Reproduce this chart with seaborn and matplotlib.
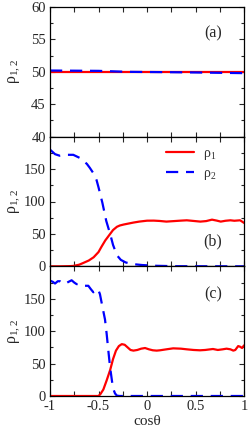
import numpy as np
import pandas as pd
import matplotlib
matplotlib.use("Agg")
import matplotlib.pyplot as plt
from matplotlib.ticker import MultipleLocator
import seaborn as sns

# ---------------- data ----------------
# panel (a)
a_x1 = [-1.0, 1.0]
a_rho1 = [50.0, 50.0]
a_x2 = [-1.0, -0.5, -0.2, 0.2, 0.5, 1.0]
a_rho2 = [50.2, 50.15, 50.0, 49.95, 49.9, 49.8]

# panel (b)
b_x1 = [-1.0, -0.9, -0.8, -0.76, -0.7, -0.66, -0.6, -0.55, -0.5, -0.47, -0.43, -0.4,
        -0.38, -0.35, -0.31, -0.28, -0.24, -0.19, -0.14, -0.08, 0.0, 0.07, 0.13,
        0.2, 0.28, 0.35, 0.41, 0.48, 0.55, 0.61, 0.67, 0.72, 0.76, 0.81, 0.86,
        0.9, 0.96, 1.0]
b_rho1 = [0.0, 0.0, 0.3, 0.6, 2.5, 5.0, 9.0, 14.0, 22.0, 30.0, 40.0, 46.0,
          50.0, 56.0, 61.0, 63.0, 64.5, 66.0, 67.5, 69.0, 70.4, 70.5, 70.0,
          69.0, 69.8, 70.5, 71.0, 70.0, 69.0, 69.8, 72.0, 70.5, 69.0, 70.3, 71.0,
          70.3, 71.0, 67.0]
b_x2 = [-1.0, -0.97, -0.948, -0.9, -0.83, -0.76, -0.69, -0.62, -0.59, -0.55,
        -0.52, -0.5, -0.46, -0.42, -0.38, -0.35, -0.31, -0.27, -0.22, -0.15,
        -0.05, 0.1, 0.3, 1.0]
b_rho2 = [180.0, 176.0, 173.0, 170.6, 172.0, 172.0, 167.0, 158.0, 152.0, 143.0,
          133.0, 122.0, 98.0, 70.0, 50.0, 33.0, 17.0, 10.0, 6.0, 3.5,
          2.0, 0.8, 0.2, 0.0]

# panel (c)
c_x1 = [-1.0, -0.5, -0.48, -0.45, -0.416, -0.38, -0.35, -0.32, -0.29, -0.26,
        -0.23, -0.2, -0.17, -0.14, -0.1, -0.06, -0.02, 0.02, 0.06, 0.1, 0.134,
        0.2, 0.27, 0.35, 0.41, 0.48, 0.546, 0.6, 0.68, 0.73, 0.78, 0.82, 0.86,
        0.89, 0.91, 0.94, 0.96, 0.98, 1.0]
c_rho1 = [0.0, 0.0, 3.0, 10.0, 24.0, 40.0, 57.0, 70.0, 77.0, 80.0,
          79.0, 75.0, 71.0, 70.0, 71.0, 73.0, 74.0, 72.0, 70.5, 70.0, 70.5,
          72.0, 73.5, 73.0, 72.0, 71.0, 70.5, 71.0, 72.5, 71.0, 72.0, 73.0, 72.0,
          70.0, 71.0, 77.0, 76.0, 74.0, 78.0]
c_x2 = [-1.0, -0.97, -0.948, -0.92, -0.897, -0.87, -0.845, -0.81, -0.777, -0.75,
        -0.725, -0.7, -0.674, -0.64, -0.605, -0.58, -0.553, -0.53, -0.505, -0.485,
        -0.46, -0.433, -0.416, -0.4, -0.381, -0.36, -0.345, -0.33, -0.31, -0.28, 1.0]
c_rho2 = [178.0, 176.0, 173.5, 177.0, 177.0, 174.0, 173.0, 176.0, 178.5, 175.0,
          172.5, 173.0, 172.0, 170.0, 170.0, 165.0, 160.0, 162.0, 165.0, 157.0,
          138.0, 118.0, 96.0, 72.0, 45.0, 22.0, 10.0, 4.0, 0.5, 0.0, 0.0]

panel_tags = ["(a)", "(b)", "(c)"]
legend_labels = ["\u03c1$_{\\mathit{1}}$", "\u03c1$_{\\mathit{2}}$"]
ylabel_text = "\u03c1$_{\\mathit{1,2}}$"
xlabel_text = "cos\u03b8"
xtick_vals = [-1, -0.5, 0, 0.5, 1]
xtick_labels = ["-1", "-0.5", "0", "0.5", "1"]

# ---------------- style ----------------
sns.set_style("ticks")
plt.rcParams["font.family"] = ["Liberation Serif", "DejaVu Serif"]
plt.rcParams["mathtext.fontset"] = "custom"
plt.rcParams["mathtext.rm"] = "Liberation Serif"
plt.rcParams["mathtext.it"] = "Liberation Serif:italic"
plt.rcParams["font.size"] = 10.5

fig = plt.figure(figsize=(2.49, 4.32), dpi=100)
gs = fig.add_gridspec(3, 1, left=50/249, right=244/249, bottom=1-396/432, top=1-7/432, hspace=0)
axes = [fig.add_subplot(gs[i]) for i in range(3)]

RED = "#ff0000"
BLUE = "#0000ff"
panels = [
    (a_x1, a_rho1, a_x2, a_rho2),
    (b_x1, b_rho1, b_x2, b_rho2),
    (c_x1, c_rho1, c_x2, c_rho2),
]

for i, (ax, (x1, r1, x2, r2)) in enumerate(zip(axes, panels)):
    d1 = pd.DataFrame({"x": x1, "y": r1})
    d2 = pd.DataFrame({"x": x2, "y": r2})
    sns.lineplot(data=d1, x="x", y="y", ax=ax, color=RED, lw=1.6, sort=False,
                 label=legend_labels[0] if i == 1 else None)
    sns.lineplot(data=d2, x="x", y="y", ax=ax, color=BLUE, lw=1.6, sort=False,
                 label=legend_labels[1] if i == 1 else None)
    ax.lines[1].set_dashes([5.5, 3.5])
    ax.set_xlim(-1, 1)
    ax.set_xlabel("")
    ax.set_ylabel(ylabel_text, fontsize=11.5)
    ax.xaxis.set_major_locator(MultipleLocator(0.5))
    ax.xaxis.set_minor_locator(MultipleLocator(0.25))
    ax.tick_params(which="both", direction="in", top=True, right=True, width=0.8,
                   labelsize=10.5, pad=3)
    ax.tick_params(axis="x", which="both", length=3.5)
    ax.tick_params(axis="y", which="major", length=3.5)
    ax.tick_params(axis="y", which="minor", length=2)
    for s in ax.spines.values():
        s.set_linewidth(0.9)
        s.set_color("black")
    if i == 0:
        ax.set_ylim(40, 60)
        ax.set_yticks([40, 45, 50, 55, 60])
        ax.yaxis.set_minor_locator(MultipleLocator(2.5))
    else:
        ax.set_ylim(0, 200)
        ax.set_yticks([0, 50, 100, 150])
        ax.yaxis.set_minor_locator(MultipleLocator(25))
    if i < 2:
        ax.set_xticks(xtick_vals)
        ax.set_xticklabels([])
    else:
        ax.set_xticks(xtick_vals)
        ax.set_xticklabels(xtick_labels)
        ax.set_xlabel(xlabel_text, fontsize=11, labelpad=1)
    ax.yaxis.set_label_coords(-0.145, 0.5)

axes[0].text(0.84, 0.8, panel_tags[0], transform=axes[0].transAxes, ha="center", va="center", fontsize=11.5)
axes[1].text(0.84, 0.19, panel_tags[1], transform=axes[1].transAxes, ha="center", va="center", fontsize=11.5)
axes[2].text(0.84, 0.78, panel_tags[2], transform=axes[2].transAxes, ha="center", va="center", fontsize=11.5)

leg = axes[1].legend(loc="upper left", bbox_to_anchor=(0.6, 0.92), frameon=False,
                     handlelength=2.0, handletextpad=0.6, borderaxespad=0, borderpad=0,
                     labelspacing=0.35, fontsize=10)
for t in leg.get_texts():
    t.set_color("#333333")
for ax in (axes[0], axes[2]):
    if ax.get_legend():
        ax.get_legend().remove()

fig.savefig("out.png", dpi=100)
